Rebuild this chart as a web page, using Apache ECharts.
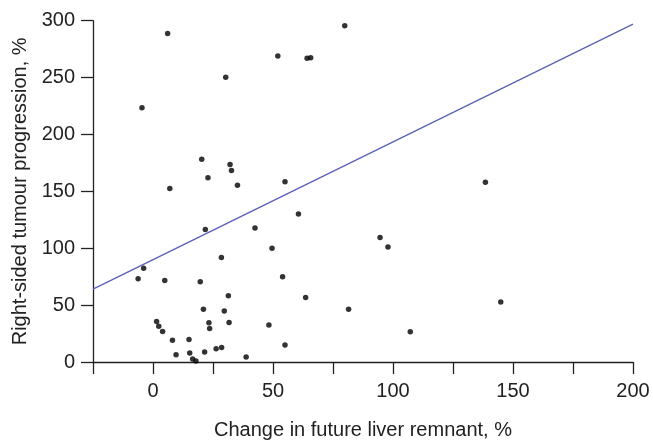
<!DOCTYPE html>
<html>
<head>
<meta charset="utf-8">
<script src="https://cdn.jsdelivr.net/npm/echarts@6/dist/echarts.min.js"></script>
<style>
  html, body { margin: 0; padding: 0; background: #fff; }
  #main { width: 653px; height: 445px; }
</style>
</head>
<body>
<div id="main"></div>
<script>
// change in future liver remnant (%) for each patient
var flrChange = [
  6.1, -4.6, 30.3, 52, 64.2, 65.7, 79.9, 20.3, 32.1, 32.7,
  22.9, 7, 35.2, 55, -6.2, -3.9, 4.9, 21.8, 42.5, 60.6,
  49.6, 28.5, 54, 19.7, 31.4, 63.6, 21, 29.7, 81.5, 1.5,
  2.4, 4, 23.3, 31.7, 23.6, 48.3, 8.1, 15, 9.6, 15.3,
  21.5, 26.3, 28.6, 55, 38.8, 16.5, 17.9, 138.5, 94.6, 97.9,
  107.2, 144.9
];
// right-sided tumour progression (%) for the same patients
var progression = [
  288.7, 223.5, 250.3, 269, 266.9, 267.5, 295.5, 178.3, 173.7, 168.4,
  162, 152.4, 155.3, 158.5, 73.1, 82.4, 71.7, 116.5, 117.7, 130.2,
  99.9, 91.8, 74.9, 70.5, 58.3, 56.8, 46.3, 44.8, 46.3, 35.6,
  31.5, 26.8, 34.4, 34.7, 29.4, 32.6, 19.2, 19.8, 6.4, 7.9,
  8.7, 11.7, 12.8, 14.9, 4.4, 2.6, 0.9, 158, 109.5, 101.1,
  26.5, 52.7
];
// fitted line end points
var fitX = [-25, 200];
var fitY = [64, 297];

var points = flrChange.map(function (x, i) { return [x, progression[i]]; });
var fitLine = fitX.map(function (x, i) { return [x, fitY[i]]; });

var textColor = '#222';
var font = 'Liberation Sans, Arial, sans-serif';

var chart = echarts.init(document.getElementById('main'));
chart.setOption({
  animation: false,
  grid: { left: 93, right: 20, top: 20.7, bottom: 81 },
  xAxis: {
    type: 'value',
    min: -25,
    max: 200,
    interval: 25,
    name: 'Change in future liver remnant, %',
    nameLocation: 'middle',
    nameGap: 58,
    nameTextStyle: { color: textColor, fontSize: 20, fontFamily: font },
    axisLine: { onZero: false, lineStyle: { color: textColor, width: 1.3 } },
    axisTick: { length: 12, lineStyle: { color: textColor, width: 1.3 } },
    axisLabel: {
      margin: 19,
      color: textColor,
      fontSize: 20,
      fontFamily: font,
      formatter: function (v) { return v % 50 === 0 ? v : ''; }
    },
    splitLine: { show: false }
  },
  yAxis: {
    type: 'value',
    min: 0,
    max: 300,
    interval: 50,
    name: 'Right-sided tumour progression, %',
    nameLocation: 'middle',
    nameGap: 60,
    nameTextStyle: { color: textColor, fontSize: 20, fontFamily: font },
    axisLine: { show: true, onZero: false, lineStyle: { color: textColor, width: 1.3 } },
    axisTick: { show: true, length: 12, lineStyle: { color: textColor, width: 1.3 } },
    axisLabel: { margin: 18, color: textColor, fontSize: 20, fontFamily: font },
    splitLine: { show: false }
  },
  series: [
    {
      type: 'line',
      data: fitLine,
      symbol: 'none',
      lineStyle: { color: '#5b5fb8', width: 1.3 },
      z: 1
    },
    {
      type: 'scatter',
      data: points,
      symbolSize: 5.5,
      itemStyle: { color: '#000' },
      z: 2
    }
  ]
});
</script>
</body>
</html>
